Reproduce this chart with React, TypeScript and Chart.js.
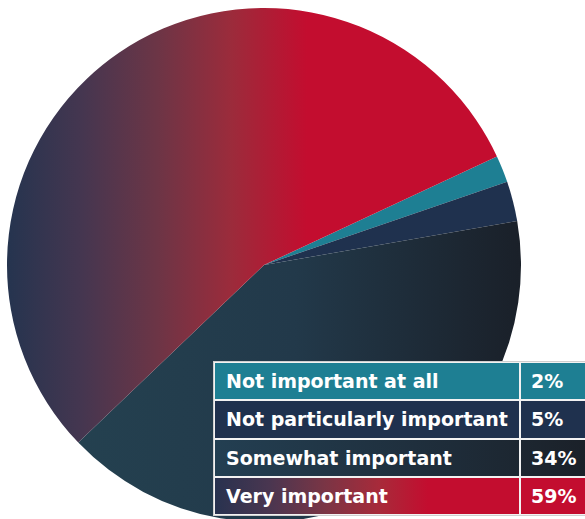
import React, { useEffect, useRef } from "react";
import { Chart, registerables } from "chart.js";

Chart.register(...registerables);

// Categories (legend / table order)
const categories = [
  "Not important at all",
  "Not particularly important",
  "Somewhat important",
  "Very important",
];
// Printed percentages in the table
const percentLabels = ["2%", "5%", "34%", "59%"];
// Slice shares as drawn in the picture (measured from the arc angles)
const sliceShares = [1.7, 2.5, 40.6, 55.2];
// Where the first slice begins (degrees clockwise from 12 o'clock)
const startAngle = 65;

const TEAL = "#1e7f93";
const NAVY = "#1f314e";
const RED = "#c30d2f";

export default function App() {
  const ref = useRef<HTMLCanvasElement>(null);

  useEffect(() => {
    document.body.style.margin = "0";
    const canvas = ref.current!;
    const chart = new Chart(canvas, {
      type: "pie",
      data: {
        labels: categories,
        datasets: [
          {
            data: sliceShares,
            borderWidth: 0,
            hoverOffset: 0,
            backgroundColor: (context: any) => {
              const i = context.dataIndex;
              const c = context.chart.ctx as CanvasRenderingContext2D;
              if (i === 0) return TEAL;
              if (i === 1) return NAVY;
              if (i === 2) {
                const g = c.createLinearGradient(63, 0, 513, 0);
                g.addColorStop(0, "#244150");
                g.addColorStop(0.5, "#22394a");
                g.addColorStop(1, "#1a2029");
                return g;
              }
              const g = c.createLinearGradient(0, 0, 300, 0);
              g.addColorStop(0, "#25344f");
              g.addColorStop(0.25, "#453650");
              g.addColorStop(0.5, "#6c3546");
              g.addColorStop(0.75, "#9c2b3b");
              g.addColorStop(1, RED);
              return g;
            },
          },
        ],
      },
      options: {
        responsive: false,
        animation: false,
        rotation: startAngle,
        events: [],
        layout: { padding: 0 },
        plugins: {
          legend: { display: false },
          tooltip: { enabled: false },
        },
      },
    });
    return () => chart.destroy();
  }, []);

  const rowBg = [
    TEAL,
    NAVY,
    "linear-gradient(to right, #233f52 0px, #1f2f3d 200px, #1b2129 371px)",
    `linear-gradient(to right, #28324f 0px, #4a3650 55px, #7a3545 110px, #a82a3a 165px, ${RED} 213px, ${RED} 100%)`,
  ];

  const rowTop = (i: number) => 363 + i * 38.3;

  return (
    <div
      style={{
        position: "fixed",
        left: 0,
        top: 0,
        width: 585,
        height: 519,
        overflow: "hidden",
        background: "#ffffff",
      }}
    >
      <canvas
        ref={ref}
        width={514}
        height={514}
        style={{ position: "absolute", left: 7, top: 8, width: 514, height: 514 }}
      />
      <div
        style={{
          position: "absolute",
          left: 213,
          top: 361,
          width: 400,
          height: 155,
          background: "#f2f2f2",
          boxShadow: "inset 0 0 0 1px #cfcfcf",
        }}
      />
      {categories.map((cat, i) => (
        <div
          key={cat}
          style={{
            position: "absolute",
            left: 215,
            top: rowTop(i),
            width: 400,
            height: 36.3,
            background: rowBg[i],
            fontFamily: "'DejaVu Sans', sans-serif",
            fontWeight: 700,
            fontSize: 19,
            color: "#ffffff",
            lineHeight: "36px",
          }}
        >
          <span style={{ position: "absolute", left: 11, top: 0, whiteSpace: "nowrap" }}>{cat}</span>
          <div
            style={{
              position: "absolute",
              left: 304,
              top: -1,
              width: 2,
              height: 38.3,
              background: "#f2f2f2",
            }}
          />
          <span style={{ position: "absolute", left: 316, top: 0, whiteSpace: "nowrap" }}>
            {percentLabels[i]}
          </span>
        </div>
      ))}
    </div>
  );
}
